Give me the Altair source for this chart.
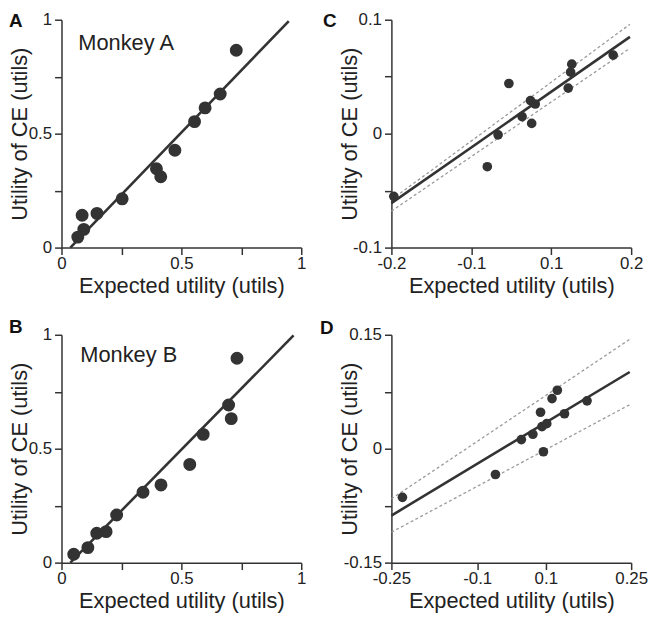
import altair as alt
import pandas as pd

FONT = "Liberation Sans"
INK = "#333333"

# Panel A - Monkey A
a_eu = [0.068, 0.093, 0.086, 0.148, 0.253, 0.396, 0.414, 0.473, 0.555, 0.599, 0.662, 0.729]
a_ce = [0.046, 0.080, 0.142, 0.150, 0.214, 0.346, 0.311, 0.427, 0.553, 0.613, 0.674, 0.866]
a_fit_x = [0.037, 0.948]
a_fit_y = [0.0, 0.994]

# Panel B - Monkey B
b_eu = [0.051, 0.110, 0.147, 0.186, 0.230, 0.340, 0.415, 0.535, 0.591, 0.697, 0.708, 0.732]
b_ce = [0.037, 0.066, 0.129, 0.136, 0.209, 0.309, 0.341, 0.431, 0.563, 0.692, 0.632, 0.897]
b_fit_x = [0.037, 0.968]
b_fit_y = [0.0, 0.997]

# Panel C
c_eu = [-0.196, -0.040, -0.022, -0.004, 0.018, 0.032, 0.040, 0.034, 0.095, 0.099, 0.101, 0.170]
c_ce = [-0.055, -0.029, -0.001, 0.044, 0.015, 0.029, 0.026, 0.009, 0.040, 0.054, 0.061, 0.069]
c_fit_x = [-0.2, 0.198]
c_fit_y = [-0.061, 0.085]
c_hi_y = [-0.058, 0.096]
c_lo_y = [-0.068, 0.075]

# Panel D
d_eu = [-0.227, -0.033, 0.021, 0.045, 0.064, 0.074, 0.061, 0.067, 0.085, 0.096, 0.111, 0.158]
d_ce = [-0.064, -0.034, 0.012, 0.019, 0.029, 0.033, 0.048, -0.004, 0.066, 0.077, 0.046, 0.063]
d_fit_x = [-0.25, 0.247]
d_fit_y = [-0.088, 0.101]
d_hi_y = [-0.066, 0.144]
d_lo_y = [-0.110, 0.058]

# ticks and their printed labels
unit_ticks = [0, 0.25, 0.5, 0.75, 1]
unit_labels = ["0", "", "0.5", "", "1"]
c_x_ticks = [-0.2, -0.0667, 0.0667, 0.2]
c_x_labels = ["-0.2", "-0.1", "0.1", "0.2"]
c_y_ticks = [-0.1, -0.05, 0, 0.05, 0.1]
c_y_labels = ["-0.1", "", "0", "", "0.1"]
d_x_ticks = [-0.25, -0.071, 0.072, 0.25]
d_x_labels = ["-0.25", "-0.1", "0.1", "0.25"]
d_y_ticks = [-0.15, -0.075, 0, 0.075, 0.15]
d_y_labels = ["-0.15", "", "0", "", "0.15"]

W, H = 242, 230


def label_expr(ticks, labels):
    expr = "''"
    for v, lab in zip(ticks, labels):
        expr = f"abs(datum.value - ({v})) < 1e-6 ? '{lab}' : ({expr})"
    return expr


def axis(ticks, labels, orient, title, title_off):
    common = dict(
        values=ticks, labelExpr=label_expr(ticks, labels), grid=False,
        tickSize=7, tickWidth=1.5, tickColor=INK, domainColor=INK, domainWidth=1.5,
        labelFont=FONT, labelFontSize=17, labelColor="#222", labelOverlap=False,
        labelFlush=False, titleFont=FONT, titleFontSize=22, titleFontWeight="normal",
        titleColor="#222", titleBaseline="alphabetic", title=title,
    )
    if orient == "x":
        return alt.Axis(labelPadding=1, titleY=title_off, **common)
    return alt.Axis(labelPadding=3, titleX=title_off, titleY=H / 2,
                    titleAngle=270, titleAlign="center", **common)


def panel(eu, ce, fx, fy, xt, xl, yt, yl, letter, lpos, size,
          ytitle_off, note=None, npos=None, hi=None, lo=None):
    xax = axis(xt, xl, "x", "Expected utility (utils)", 45)
    yax = axis(yt, yl, "y", "Utility of CE (utils)", ytitle_off)
    xs = alt.Scale(domain=[xt[0], xt[-1]], nice=False, zero=False)
    ys = alt.Scale(domain=[yt[0], yt[-1]], nice=False, zero=False)
    enc = dict(x=alt.X("eu:Q", scale=xs, axis=xax), y=alt.Y("ce:Q", scale=ys, axis=yax))

    pts = pd.DataFrame({"eu": eu, "ce": ce})
    fit = pd.DataFrame({"eu": fx, "ce": fy})

    layers = []
    if hi is not None:
        band = pd.DataFrame({"eu": fx + fx, "ce": hi + lo,
                             "side": ["hi", "hi", "lo", "lo"]})
        layers.append(
            alt.Chart(band).mark_line(color="#9a9a9a", strokeWidth=1.3, strokeDash=[3, 2.5])
            .encode(detail="side:N", **enc)
        )
    layers.append(alt.Chart(fit).mark_line(color=INK, strokeWidth=2.6).encode(**enc))
    layers.append(alt.Chart(pts).mark_circle(color=INK, opacity=1, size=size).encode(**enc))
    layers.append(
        alt.Chart(pd.DataFrame({"t": [letter]})).mark_text(
            font=FONT, fontSize=19, fontWeight="bold", color="#111",
            align="left", baseline="top")
        .encode(text="t:N", x=alt.value(lpos[0]), y=alt.value(lpos[1]))
    )
    if note:
        layers.append(
            alt.Chart(pd.DataFrame({"t": [note]})).mark_text(
                font=FONT, fontSize=22, color="#222", align="left", baseline="alphabetic")
            .encode(text="t:N", x=alt.value(npos[0]), y=alt.value(npos[1]))
        )
    return alt.layer(*layers).properties(width=W, height=H)


pa = panel(a_eu, a_ce, a_fit_x, a_fit_y, unit_ticks, unit_labels, unit_ticks, unit_labels,
           "A", (-53, -8), 170, -35, note="Monkey A", npos=(17, 31))
pb = panel(b_eu, b_ce, b_fit_x, b_fit_y, unit_ticks, unit_labels, unit_ticks, unit_labels,
           "B", (-53, -17), 170, -35, note="Monkey B", npos=(19, 27.5))
pc = panel(c_eu, c_ce, c_fit_x, c_fit_y, c_x_ticks, c_x_labels, c_y_ticks, c_y_labels,
           "C", (-69, -8), 95, -35, hi=c_hi_y, lo=c_lo_y)
pd_ = panel(d_eu, d_ce, d_fit_x, d_fit_y, d_x_ticks, d_x_labels, d_y_ticks, d_y_labels,
            "D", (-72, -16), 95, -35, hi=d_hi_y, lo=d_lo_y)

chart = (
    alt.concat(pa, pc, pb, pd_, columns=2, spacing={"row": 88, "column": 91}, bounds="flush")
    .properties(padding=0)
    .configure_view(stroke=None)
)

chart.save("out.html", embed_options={"renderer": "svg", "actions": False})
